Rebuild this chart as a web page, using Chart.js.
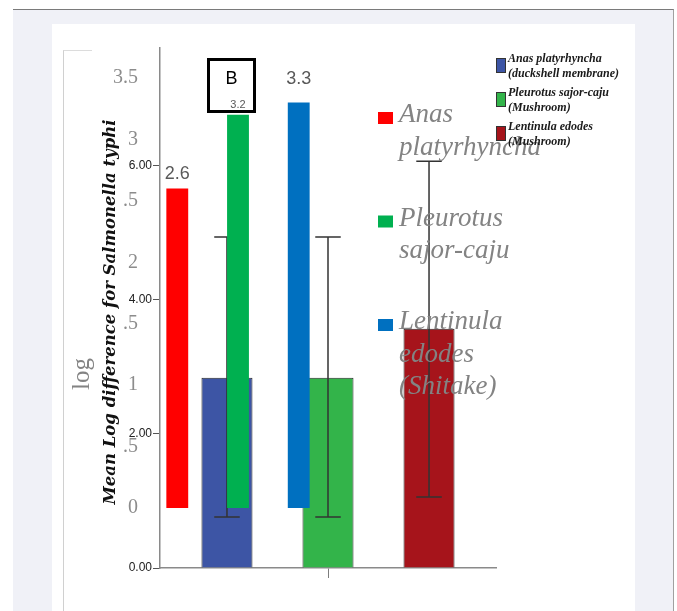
<!DOCTYPE html>
<html>
<head>
<meta charset="utf-8">
<script src="https://cdn.jsdelivr.net/npm/chart.js@4.4.1/dist/chart.umd.min.js"></script>
<style>
    html, body { margin: 0; padding: 0; background: #fff; }
    .page { position: relative; width: 677px; height: 611px; overflow: hidden; }
    .frame { position: absolute; left: 13px; top: 9px; width: 660px; height: 620px; background: #f0f1f7; border-top: 1px solid #7a7a7a; border-right: 1px solid #a0a0a0; }
    .panel { position: absolute; left: 52px; top: 24px; width: 583px; height: 600px; background: #fff; }
    .inner { position: absolute; left: 63px; top: 50px; width: 28px; height: 580px; border-left: 1px solid #d0d0d0; border-top: 1px solid #dcdcdc; }
    canvas { position: absolute; left: 0; top: 0; }
    #chartA { z-index: 1; }
    #chartB { z-index: 2; }
    .tag { position: absolute; z-index: 3; left: 207px; top: 58px; width: 43px; height: 49px; border: 3px solid #000; font: 18px "Liberation Sans", Arial, sans-serif; text-align: center; line-height: 34px; color: #000; }
    #legendA { position: absolute; z-index: 4; left: 496px; top: 51px; }
    .lgA { position: relative; height: 34px; width: 130px; }
    .lgA .sw { position: absolute; left: 0; top: 7px; width: 8px; height: 13px; border: 1px solid #333; }
    .lgA .tx { position: absolute; left: 12px; top: 0; font: italic bold 12px/15px "Liberation Serif", serif; color: #1a1a1a; white-space: nowrap; }
</style>
</head>
<body>
<div class="page">
    <div class="frame"></div>
    <div class="panel"></div>
    <div class="inner"></div>
    <canvas id="chartA" width="677" height="611"></canvas>
    <canvas id="chartB" width="677" height="611"></canvas>
    <div class="tag" id="tag"></div>
    <div id="legendA"></div>
</div>
<script>
// SPSS chart (A): means with error bars
const groupA = [''];
const seriesA = ['Anas platyrhyncha (duckshell membrane)', 'Pleurotus sajor-caju (Mushroom)', 'Lentinula edodes (Mushroom)'];
const meansA = [2.84, 2.84, 3.57];
const lowA = [0.76, 0.76, 1.06];
const highA = [4.94, 4.94, 6.07];
const yTicksA = [0, 2, 4, 6];
const yMaxA = 7.76;
const titleA = 'Mean Log difference for Salmonella typhi';

// Excel chart (B) laid over it
const groupB = [''];
const seriesB = ['Anas platyrhyncha', 'Pleurotus sajor-caju', 'Lentinula edodes (Shitake)'];
const valuesB = [2.6, 3.2, 3.3];
const yTicksB = [0, 0.5, 1, 1.5, 2, 2.5, 3, 3.5];
const yTickLabelsB = ['0', '.5', '1', '.5', '2', '.5', '3', '3.5'];
const titleB = 'log';
const tagB = 'B';

const colorsA = ['#3d55a5', '#33b44a', '#a6141b'];
const colorsB = ['#ff0000', '#00b050', '#0070c0'];
const labelStyleB = [{ size: 18, offset: 15 }, { size: 11, offset: 10 }, { size: 18, offset: 24 }];

document.addEventListener('DOMContentLoaded', () => {
    // Error bars for chart A
    const errorBars = {
        id: 'errorBars',
        afterDatasetsDraw(chart) {
            const ctx = chart.ctx;
            const y = chart.scales.y;
            ctx.save();
            ctx.strokeStyle = '#333';
            ctx.lineWidth = 1.5;
            chart.data.datasets.forEach((ds, i) => {
                const bar = chart.getDatasetMeta(i).data[0];
                const top = y.getPixelForValue(highA[i]);
                const bottom = y.getPixelForValue(lowA[i]);
                const cap = bar.width * 0.25;
                ctx.beginPath();
                ctx.moveTo(bar.x, top); ctx.lineTo(bar.x, bottom);
                ctx.moveTo(bar.x - cap, top); ctx.lineTo(bar.x + cap, top);
                ctx.moveTo(bar.x - cap, bottom); ctx.lineTo(bar.x + cap, bottom);
                ctx.stroke();
            });
            ctx.restore();
        }
    };

    const titleAPlugin = {
        id: 'titleA',
        afterDraw(chart) {
            const ctx = chart.ctx;
            const area = chart.chartArea;
            ctx.save();
            ctx.translate(111, (area.top + area.bottom) / 2 + 4);
            ctx.rotate(-Math.PI / 2);
            ctx.font = 'italic bold 16.5px "DejaVu Serif", serif';
            ctx.fillStyle = '#111';
            ctx.textAlign = 'center';
            ctx.textBaseline = 'middle';
            ctx.fillText(titleA, 0, 0);
            ctx.restore();
        }
    };

    new Chart(document.getElementById('chartA'), {
        type: 'bar',
        data: {
            labels: groupA,
            datasets: seriesA.map((name, i) => ({
                label: name,
                data: [meansA[i]],
                backgroundColor: colorsA[i],
                borderColor: '#262626',
                borderWidth: 1,
                categoryPercentage: 0.902,
                barPercentage: 0.505
            }))
        },
        options: {
            responsive: false,
            animation: false,
            layout: { padding: { left: 0, right: 181, top: 48, bottom: 0 } },
            plugins: { legend: { display: false }, tooltip: { enabled: false } },
            scales: {
                x: {
                    grid: { drawOnChartArea: false, offset: false, tickLength: 10, color: '#7d7d7d' },
                    border: { color: '#8a8a8a', width: 1.5 },
                    ticks: { display: false },
                    afterFit: s => { s.height = 43; }
                },
                y: {
                    min: 0,
                    max: yMaxA,
                    afterBuildTicks: s => { s.ticks = yTicksA.map(v => ({ value: v })); },
                    ticks: { callback: v => v.toFixed(2), color: '#222', font: { family: 'Liberation Sans', size: 12 }, padding: 1 },
                    grid: { drawOnChartArea: false, tickLength: 7, color: '#555' },
                    border: { color: '#8a8a8a', width: 1.5 },
                    afterFit: s => { s.width = 160; }
                }
            }
        },
        plugins: [errorBars, titleAPlugin]
    });

    // Value labels + legend + axis title for chart B
    const labelsB = {
        id: 'labelsB',
        afterDatasetsDraw(chart) {
            const ctx = chart.ctx;
            ctx.save();
            ctx.fillStyle = '#595959';
            ctx.textAlign = 'center';
            ctx.textBaseline = 'middle';
            chart.data.datasets.forEach((ds, i) => {
                const bar = chart.getDatasetMeta(i).data[0];
                ctx.font = `${labelStyleB[i].size}px "Liberation Sans", Arial, sans-serif`;
                ctx.fillText(valuesB[i].toFixed(1), bar.x, bar.y - labelStyleB[i].offset);
            });
            ctx.restore();
        }
    };

    const legendB = {
        id: 'legendB',
        afterDraw(chart) {
            const ctx = chart.ctx;
            ctx.save();
            ctx.font = 'italic 27px "Liberation Serif", serif';
            ctx.textBaseline = 'alphabetic';
            seriesB.forEach((name, i) => {
                const base = 122 + i * 103.5;
                ctx.fillStyle = colorsB[i];
                ctx.fillRect(378, base - 10, 15, 12);
                ctx.fillStyle = '#838383';
                name.split(' ').forEach((word, j) => ctx.fillText(word, 399, base + j * 32.5));
            });
            // axis title
            ctx.translate(82, 374);
            ctx.rotate(-Math.PI / 2);
            ctx.font = '25px "Liberation Serif", serif';
            ctx.textAlign = 'center';
            ctx.textBaseline = 'middle';
            ctx.fillText(titleB, 0, 0);
            ctx.restore();
        }
    };

    new Chart(document.getElementById('chartB'), {
        type: 'bar',
        data: {
            labels: groupB,
            datasets: seriesB.map((name, i) => ({
                label: name,
                data: [valuesB[i]],
                backgroundColor: colorsB[i],
                categoryPercentage: 0.99,
                barPercentage: 0.36
            }))
        },
        options: {
            responsive: false,
            animation: false,
            layout: { padding: { left: 0, right: 347, top: 78, bottom: 103 } },
            plugins: { legend: { display: false }, tooltip: { enabled: false } },
            scales: {
                x: { display: false },
                y: {
                    min: 0,
                    max: 3.5,
                    afterBuildTicks: s => { s.ticks = yTicksB.map(v => ({ value: v })); },
                    ticks: { callback: (v, i) => yTickLabelsB[i], color: '#8c8c8c', font: { family: 'Liberation Serif', size: 20 }, padding: 8 },
                    grid: { display: false, drawTicks: false },
                    border: { display: false },
                    afterFit: s => { s.width = 146; }
                }
            }
        },
        plugins: [labelsB, legendB]
    });

    document.getElementById('tag').textContent = tagB;

    // HTML legend for chart A, on top of everything
    const legendA = document.getElementById('legendA');
    seriesA.forEach((name, i) => {
        const cut = name.indexOf(' (');
        const row = document.createElement('div');
        row.className = 'lgA';
        row.innerHTML = `<span class="sw" style="background:${colorsA[i]}"></span><span class="tx">${name.slice(0, cut)}<br>${name.slice(cut + 1)}</span>`;
        legendA.appendChild(row);
    });
});
</script>
</body>
</html>
